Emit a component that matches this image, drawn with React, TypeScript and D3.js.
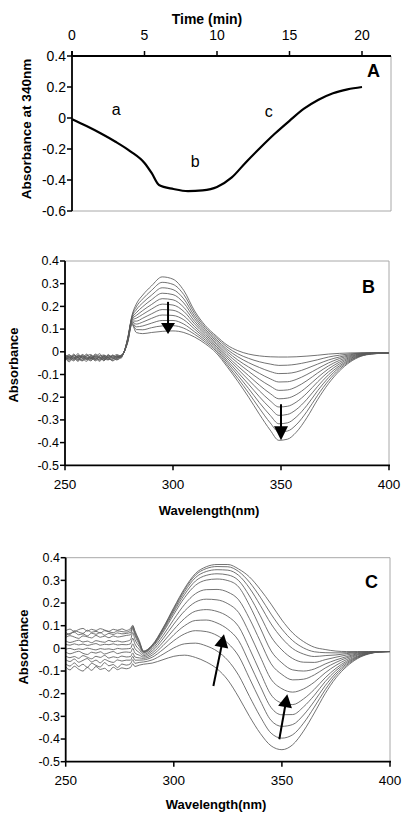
import React from "react";
import * as d3 from "d3";

// ---------- Panel A : absorbance at 340 nm vs time ----------
const aTime = [0, 1, 2, 3, 4, 5, 5.5, 6, 7, 8, 9, 10, 11, 12, 13, 14, 15, 16, 17, 18, 19, 20];
const aAbs = [-0.008, -0.052, -0.1, -0.153, -0.213, -0.29, -0.356, -0.432, -0.458, -0.472, -0.467, -0.445, -0.385, -0.285, -0.19, -0.1, -0.018, 0.06, 0.118, 0.16, 0.185, 0.2];
const aXTicks = [0, 5, 10, 15, 20];
const aYTicks = [0.4, 0.2, 0, -0.2, -0.4, -0.6];

// ---------- Panels B and C : difference spectra ----------
const wlTicks = [250, 300, 350, 400];
const absTicks = [0.4, 0.3, 0.2, 0.1, 0, -0.1, -0.2, -0.3, -0.4, -0.5];

const bNoiseWave = [250, 252, 254, 256, 258, 260, 262, 264, 266, 268, 270, 272, 274, 276];
const bWave = [277, 279, 281, 283, 286, 290, 295, 300, 305, 310, 315, 320, 325, 330, 335, 340, 345, 349, 353, 357, 362, 367, 372, 377, 382, 387, 392, 400];
const bNoise = [
  [-0.018, -0.032, -0.010, -0.027, -0.014, -0.035, -0.016, -0.024, -0.008, -0.030, -0.015, -0.022, -0.012, -0.020],
  [-0.028, -0.012, -0.034, -0.018, -0.026, -0.010, -0.030, -0.014, -0.027, -0.019, -0.033, -0.016, -0.024, -0.014],
  [-0.010, -0.026, -0.020, -0.038, -0.012, -0.024, -0.032, -0.010, -0.022, -0.036, -0.012, -0.028, -0.018, -0.022],
  [-0.036, -0.020, -0.028, -0.008, -0.030, -0.018, -0.012, -0.034, -0.020, -0.014, -0.026, -0.018, -0.030, -0.016],
  [-0.022, -0.040, -0.016, -0.026, -0.036, -0.014, -0.028, -0.020, -0.038, -0.016, -0.024, -0.034, -0.016, -0.024],
  [-0.014, -0.024, -0.036, -0.016, -0.022, -0.030, -0.040, -0.018, -0.026, -0.028, -0.018, -0.024, -0.036, -0.018],
  [-0.030, -0.016, -0.024, -0.042, -0.020, -0.034, -0.022, -0.036, -0.016, -0.030, -0.036, -0.014, -0.026, -0.022],
  [-0.024, -0.034, -0.014, -0.030, -0.040, -0.022, -0.030, -0.026, -0.034, -0.020, -0.028, -0.038, -0.022, -0.016],
  [-0.040, -0.022, -0.030, -0.020, -0.028, -0.042, -0.018, -0.032, -0.024, -0.040, -0.020, -0.026, -0.034, -0.024],
  [-0.026, -0.044, -0.024, -0.034, -0.018, -0.026, -0.036, -0.028, -0.042, -0.024, -0.034, -0.030, -0.020, -0.028],
  [-0.034, -0.028, -0.040, -0.024, -0.038, -0.030, -0.024, -0.040, -0.030, -0.036, -0.026, -0.040, -0.028, -0.020],
];
const bSmooth = [
  [-0.008, 0.06, 0.16, 0.21, 0.25, 0.29, 0.33, 0.32, 0.27, 0.18, 0.115, 0.07, 0.03, 0.005, -0.01, -0.018, -0.022, -0.023, -0.023, -0.022, -0.019, -0.015, -0.01, -0.007, -0.005, -0.004, -0.004, -0.005],
  [-0.008, 0.058, 0.156, 0.198, 0.233, 0.27, 0.306, 0.297, 0.252, 0.169, 0.107, 0.063, 0.021, -0.009, -0.029, -0.044, -0.054, -0.06, -0.059, -0.055, -0.046, -0.035, -0.023, -0.015, -0.009, -0.006, -0.005, -0.005],
  [-0.008, 0.056, 0.152, 0.185, 0.216, 0.249, 0.282, 0.274, 0.233, 0.157, 0.099, 0.055, 0.011, -0.022, -0.048, -0.069, -0.087, -0.096, -0.095, -0.089, -0.073, -0.054, -0.036, -0.023, -0.013, -0.007, -0.005, -0.005],
  [-0.008, 0.054, 0.148, 0.172, 0.199, 0.229, 0.258, 0.252, 0.215, 0.146, 0.091, 0.048, 0.002, -0.036, -0.067, -0.095, -0.119, -0.133, -0.132, -0.122, -0.1, -0.074, -0.049, -0.03, -0.017, -0.009, -0.006, -0.005],
  [-0.008, 0.052, 0.144, 0.16, 0.182, 0.208, 0.234, 0.229, 0.196, 0.134, 0.083, 0.04, -0.008, -0.049, -0.086, -0.121, -0.151, -0.17, -0.168, -0.155, -0.127, -0.093, -0.062, -0.038, -0.021, -0.01, -0.006, -0.005],
  [-0.008, 0.05, 0.14, 0.148, 0.165, 0.188, 0.21, 0.206, 0.178, 0.123, 0.075, 0.033, -0.018, -0.063, -0.105, -0.147, -0.184, -0.207, -0.204, -0.189, -0.155, -0.113, -0.075, -0.046, -0.025, -0.012, -0.007, -0.005],
  [-0.008, 0.048, 0.136, 0.135, 0.148, 0.167, 0.186, 0.183, 0.159, 0.111, 0.067, 0.025, -0.027, -0.076, -0.124, -0.172, -0.216, -0.243, -0.24, -0.222, -0.182, -0.132, -0.088, -0.054, -0.029, -0.014, -0.008, -0.005],
  [-0.008, 0.046, 0.132, 0.122, 0.131, 0.147, 0.162, 0.16, 0.141, 0.1, 0.059, 0.018, -0.037, -0.09, -0.143, -0.198, -0.248, -0.28, -0.276, -0.255, -0.209, -0.152, -0.101, -0.062, -0.033, -0.015, -0.008, -0.005],
  [-0.008, 0.044, 0.128, 0.11, 0.114, 0.126, 0.138, 0.138, 0.122, 0.088, 0.051, 0.01, -0.046, -0.103, -0.162, -0.224, -0.28, -0.317, -0.313, -0.288, -0.236, -0.171, -0.114, -0.069, -0.037, -0.017, -0.009, -0.005],
  [-0.008, 0.042, 0.124, 0.098, 0.097, 0.106, 0.114, 0.115, 0.104, 0.077, 0.043, 0.003, -0.056, -0.117, -0.181, -0.249, -0.313, -0.353, -0.349, -0.322, -0.263, -0.191, -0.127, -0.077, -0.041, -0.018, -0.009, -0.005],
  [-0.008, 0.04, 0.12, 0.085, 0.08, 0.085, 0.09, 0.092, 0.085, 0.065, 0.035, -0.005, -0.065, -0.13, -0.2, -0.275, -0.345, -0.39, -0.385, -0.355, -0.29, -0.21, -0.14, -0.085, -0.045, -0.02, -0.01, -0.005],
];

const cNoiseWave = [250, 252, 254, 256, 258, 260, 262, 264, 266, 268, 270, 272, 274, 276, 278];
const cSpikeWave = [280, 281, 282, 284];
const cWave = [286, 290, 295, 300, 305, 310, 315, 320, 325, 330, 335, 340, 345, 350, 355, 360, 365, 370, 375, 380, 385, 390, 395, 400];
const cNoise = [
  [0.078, 0.085, 0.074, 0.083, 0.088, 0.076, 0.084, 0.079, 0.087, 0.081, 0.075, 0.084, 0.080, 0.086, 0.079],
  [0.070, 0.062, 0.078, 0.072, 0.066, 0.080, 0.071, 0.075, 0.068, 0.078, 0.073, 0.069, 0.077, 0.074, 0.072],
  [0.058, 0.066, 0.071, 0.060, 0.064, 0.055, 0.067, 0.062, 0.070, 0.058, 0.066, 0.061, 0.068, 0.064, 0.066],
  [0.048, 0.056, 0.050, 0.044, 0.055, 0.051, 0.046, 0.057, 0.049, 0.054, 0.047, 0.055, 0.050, 0.053, 0.057],
  [0.033, 0.026, 0.031, 0.036, 0.028, 0.032, 0.025, 0.034, 0.030, 0.027, 0.035, 0.029, 0.033, 0.028, 0.031],
  [0.018, 0.014, 0.020, 0.015, 0.019, 0.013, 0.017, 0.021, 0.014, 0.018, 0.016, 0.020, 0.015, 0.017, 0.016],
  [-0.004, 0.000, -0.006, -0.002, -0.005, 0.001, -0.003, -0.007, -0.001, -0.004, -0.002, -0.006, 0.000, -0.003, -0.002],
  [-0.016, -0.024, -0.018, -0.013, -0.022, -0.027, -0.017, -0.021, -0.015, -0.025, -0.019, -0.014, -0.023, -0.018, -0.016],
  [-0.034, -0.041, -0.036, -0.044, -0.032, -0.039, -0.046, -0.035, -0.040, -0.031, -0.043, -0.037, -0.041, -0.034, -0.038],
  [-0.050, -0.058, -0.047, -0.061, -0.053, -0.045, -0.060, -0.052, -0.064, -0.049, -0.057, -0.062, -0.051, -0.056, -0.052],
  [-0.068, -0.078, -0.064, -0.080, -0.070, -0.084, -0.066, -0.075, -0.082, -0.063, -0.077, -0.071, -0.085, -0.069, -0.074],
  [-0.082, -0.095, -0.079, -0.092, -0.100, -0.084, -0.097, -0.080, -0.093, -0.088, -0.101, -0.083, -0.094, -0.086, -0.090],
];
const cSpike = [
  [0.088, 0.102, 0.078, 0.035],
  [0.08, 0.098, 0.072, 0.03],
  [0.07, 0.094, 0.066, 0.025],
  [0.06, 0.088, 0.058, 0.018],
  [0.038, 0.07, 0.04, 0.008],
  [0.02, 0.045, 0.02, -0.005],
  [0.0, 0.02, 0.0, -0.018],
  [-0.018, 0.0, -0.02, -0.03],
  [-0.036, -0.02, -0.038, -0.042],
  [-0.052, -0.035, -0.052, -0.052],
  [-0.068, -0.05, -0.066, -0.062],
  [-0.084, -0.068, -0.08, -0.074],
];
const cSmooth = [
  [-0.012, 0.015, 0.09, 0.18, 0.265, 0.33, 0.36, 0.37, 0.37, 0.35, 0.315, 0.26, 0.195, 0.125, 0.068, 0.03, 0.005, -0.005, -0.012, -0.014, -0.014, -0.014, -0.014, -0.014],
  [-0.013, 0.013, 0.087, 0.176, 0.259, 0.323, 0.352, 0.361, 0.36, 0.339, 0.292, 0.226, 0.151, 0.085, 0.034, 0.002, -0.015, -0.019, -0.02, -0.019, -0.016, -0.015, -0.014, -0.014],
  [-0.015, 0.011, 0.083, 0.169, 0.25, 0.312, 0.339, 0.347, 0.345, 0.322, 0.266, 0.19, 0.108, 0.045, -0.001, -0.025, -0.036, -0.032, -0.029, -0.023, -0.018, -0.016, -0.014, -0.014],
  [-0.017, 0.008, 0.077, 0.161, 0.238, 0.297, 0.322, 0.329, 0.324, 0.299, 0.231, 0.144, 0.051, -0.007, -0.045, -0.061, -0.062, -0.05, -0.039, -0.029, -0.021, -0.017, -0.014, -0.014],
  [-0.02, 0.004, 0.07, 0.15, 0.224, 0.278, 0.301, 0.306, 0.299, 0.271, 0.19, 0.09, -0.011, -0.064, -0.095, -0.1, -0.091, -0.069, -0.051, -0.036, -0.024, -0.018, -0.015, -0.014],
  [-0.026, -0.004, 0.056, 0.128, 0.194, 0.241, 0.259, 0.26, 0.248, 0.214, 0.131, 0.031, -0.068, -0.115, -0.139, -0.136, -0.117, -0.087, -0.062, -0.042, -0.027, -0.019, -0.015, -0.014],
  [-0.032, -0.012, 0.042, 0.107, 0.165, 0.204, 0.217, 0.214, 0.197, 0.158, 0.067, -0.037, -0.136, -0.178, -0.193, -0.179, -0.149, -0.108, -0.075, -0.049, -0.03, -0.02, -0.015, -0.014],
  [-0.038, -0.021, 0.027, 0.083, 0.132, 0.164, 0.171, 0.163, 0.141, 0.096, -0.001, -0.106, -0.205, -0.241, -0.248, -0.223, -0.181, -0.13, -0.088, -0.056, -0.034, -0.021, -0.015, -0.014],
  [-0.044, -0.03, 0.012, 0.06, 0.1, 0.123, 0.125, 0.112, 0.084, 0.034, -0.065, -0.167, -0.261, -0.293, -0.292, -0.258, -0.207, -0.147, -0.098, -0.062, -0.037, -0.022, -0.015, -0.014],
  [-0.051, -0.039, -0.005, 0.034, 0.064, 0.078, 0.074, 0.057, 0.023, -0.034, -0.132, -0.231, -0.318, -0.344, -0.336, -0.294, -0.233, -0.165, -0.109, -0.068, -0.039, -0.023, -0.016, -0.014],
  [-0.06, -0.051, -0.026, 0.002, 0.02, 0.023, 0.011, -0.012, -0.053, -0.119, -0.212, -0.301, -0.374, -0.396, -0.381, -0.33, -0.259, -0.183, -0.119, -0.074, -0.042, -0.024, -0.016, -0.014],
  [-0.07, -0.065, -0.05, -0.035, -0.03, -0.04, -0.06, -0.09, -0.14, -0.215, -0.3, -0.375, -0.43, -0.447, -0.425, -0.365, -0.285, -0.2, -0.13, -0.08, -0.045, -0.025, -0.016, -0.014],
];

const FONT = "'Liberation Sans', Arial, Helvetica, sans-serif";
const GRID = "#a8a8a8";
const fmt = (v: number) => (Math.abs(v) < 1e-9 ? "0" : v.toFixed(1));

function Arrow({ x1, y1, x2, y2, head, width }: { x1: number; y1: number; x2: number; y2: number; head: number; width: number }) {
  const dx = x2 - x1, dy = y2 - y1;
  const len = Math.hypot(dx, dy);
  const ux = dx / len, uy = dy / len;
  const bx = x2 - ux * head, by = y2 - uy * head;
  const px = -uy * width / 2, py = ux * width / 2;
  return (
    <g>
      <line x1={x1} y1={y1} x2={bx + ux * 1} y2={by + uy * 1} stroke="#000" strokeWidth={2} />
      <polygon points={`${x2},${y2} ${bx + px},${by + py} ${bx - px},${by - py}`} fill="#000" />
    </g>
  );
}

function SpecPanel(props: {
  x0: number; x1: number; yTop: number; yBot: number;
  noiseWave: number[]; restWave: number[][]; noise: number[][]; rest: number[][][];
  letter: string; letterX: number; letterY: number;
  yLabelX: number; yLabelY: number; xLabelX: number; xLabelY: number; tickY: number; tickEnd: number;
  arrows: { w1: number; a1: number; w2: number; a2: number; head: number }[];
}) {
  const x = d3.scaleLinear().domain([250, 400]).range([props.x0, props.x1]);
  const y = d3.scaleLinear().domain([-0.5, 0.4]).range([props.yBot, props.yTop]);
  const line = d3.line<[number, number]>().x((d) => x(d[0])).y((d) => y(d[1])).curve(d3.curveMonotoneX);
  const waves = props.noiseWave.concat(...props.restWave);
  return (
    <g>
      <line x1={props.x0} x2={props.x1} y1={props.yTop} y2={props.yTop} stroke={GRID} strokeWidth={1} />
      <line x1={props.x1} x2={props.x1} y1={props.yTop} y2={props.yBot} stroke={GRID} strokeWidth={1} />
      {props.noise.map((nz, k) => {
        const vals = nz.concat(...props.rest.map((r) => r[k]));
        const pts = waves.map((w, i) => [w, vals[i]] as [number, number]);
        return <path key={k} d={line(pts) || ""} fill="none" stroke="#5a5a5a" strokeWidth={0.85} />;
      })}
      <line x1={props.x0} x2={props.x0} y1={props.yTop} y2={props.yBot} stroke="#000" strokeWidth={1.8} />
      <line x1={props.x0} x2={props.x1 + 1} y1={props.yBot} y2={props.yBot} stroke="#000" strokeWidth={1.8} />
      {absTicks.map((t) => (
        <g key={t}>
          <line x1={props.x0 - 5} x2={props.x0} y1={y(t)} y2={y(t)} stroke="#000" strokeWidth={1.5} />
          <text x={props.tickEnd} y={y(t)} dy="0.35em" textAnchor="end" fontSize={12.5} fontFamily={FONT}>{fmt(t)}</text>
        </g>
      ))}
      {wlTicks.map((t) => (
        <g key={t}>
          <line x1={x(t)} x2={x(t)} y1={props.yBot} y2={props.yBot + 5} stroke="#000" strokeWidth={1.5} />
          <text x={x(t)} y={props.tickY} textAnchor="middle" fontSize={13.5} fontFamily={FONT}>{t}</text>
        </g>
      ))}
      {props.arrows.map((a, i) => (
        <Arrow key={i} x1={x(a.w1)} y1={y(a.a1)} x2={x(a.w2)} y2={y(a.a2)} head={a.head} width={14} />
      ))}
      <text x={props.xLabelX} y={props.xLabelY} textAnchor="middle" fontSize={13} fontWeight="bold" fontFamily={FONT}>Wavelength(nm)</text>
      <text transform={`translate(${props.yLabelX},${props.yLabelY}) rotate(-90)`} dy="0.35em" textAnchor="middle" fontSize={13} fontWeight="bold" fontFamily={FONT}>Absorbance</text>
      <text x={props.letterX} y={props.letterY} fontSize={18} fontWeight="bold" fontFamily={FONT}>{props.letter}</text>
    </g>
  );
}

export default function App() {
  const ax = d3.scaleLinear().domain([0, 22]).range([72, 391]);
  const ay = d3.scaleLinear().domain([-0.6, 0.4]).range([211, 56]);
  const aLine = d3.line<number>().x((_, i) => ax(aTime[i])).y((d) => ay(d)).curve(d3.curveMonotoneX);
  return (
    <svg width={410} height={818} style={{ position: "absolute", left: 0, top: 0, background: "#fff" }}>
      <rect x={0} y={0} width={410} height={818} fill="#fff" />
      {/* Panel A */}
      <line x1={ax(22)} x2={ax(22)} y1={ay(0.4)} y2={ay(-0.6)} stroke={GRID} strokeWidth={1} />
      <line x1={ax(0)} x2={ax(22)} y1={ay(-0.6)} y2={ay(-0.6)} stroke={GRID} strokeWidth={1} />
      <path d={aLine(aAbs) || ""} fill="none" stroke="#000" strokeWidth={2.2} />
      <line x1={ax(0)} x2={ax(22)} y1={ay(0.4)} y2={ay(0.4)} stroke="#000" strokeWidth={1.8} />
      <line x1={ax(0)} x2={ax(0)} y1={ay(0.4) - 5} y2={ay(-0.6)} stroke="#000" strokeWidth={1.8} />
      {aXTicks.map((t) => (
        <g key={t}>
          <line x1={ax(t)} x2={ax(t)} y1={ay(0.4) - 5} y2={ay(0.4)} stroke="#000" strokeWidth={1.5} />
          <text x={ax(t)} y={40} textAnchor="middle" fontSize={14} fontFamily={FONT}>{t}</text>
        </g>
      ))}
      {aYTicks.map((t) => (
        <g key={t}>
          <line x1={ax(0) - 5} x2={ax(0)} y1={ay(t)} y2={ay(t)} stroke="#000" strokeWidth={1.5} />
          <text x={66} y={ay(t)} dy="0.35em" textAnchor="end" fontSize={14} fontFamily={FONT}>{fmt(t)}</text>
        </g>
      ))}
      <text x={207} y={24} textAnchor="middle" fontSize={14} fontWeight="bold" fontFamily={FONT}>Time (min)</text>
      <text transform="translate(26,129) rotate(-90)" dy="0.35em" textAnchor="middle" fontSize={13.5} fontWeight="bold" fontFamily={FONT}>Absorbance at 340nm</text>
      <text x={367} y={77} fontSize={18} fontWeight="bold" fontFamily={FONT}>A</text>
      <text x={ax(2.74)} y={ay(0.02)} fontSize={16} fontFamily={FONT}>a</text>
      <text x={ax(8.19)} y={ay(-0.314)} fontSize={16} fontFamily={FONT}>b</text>
      <text x={ax(13.3)} y={ay(0.008)} fontSize={16} fontFamily={FONT}>c</text>

      {/* Panel B */}
      <SpecPanel
        x0={65} x1={389} yTop={261} yBot={465.3}
        noiseWave={bNoiseWave} restWave={[bWave]} noise={bNoise} rest={[bSmooth]}
        letter="B" letterX={362} letterY={293}
        yLabelX={13} yLabelY={365} xLabelX={209} xLabelY={515} tickY={489} tickEnd={59}
        arrows={[
          { w1: 297.7, a1: 0.22, w2: 297.7, a2: 0.078, head: 11 },
          { w1: 350, a1: -0.231, w2: 350, a2: -0.39, head: 14 },
        ]}
      />

      {/* Panel C */}
      <SpecPanel
        x0={65.7} x1={390} yTop={557.7} yBot={761.7}
        noiseWave={cNoiseWave} restWave={[cSpikeWave, cWave]} noise={cNoise} rest={[cSpike, cSmooth]}
        letter="C" letterX={365} letterY={588}
        yLabelX={23.3} yLabelY={647} xLabelX={216} xLabelY={808.5} tickY={785} tickEnd={60}
        arrows={[
          { w1: 318.3, a1: -0.166, w2: 323.2, a2: 0.062, head: 13 },
          { w1: 348.8, a1: -0.401, w2: 352.5, a2: -0.202, head: 13 },
        ]}
      />
    </svg>
  );
}
